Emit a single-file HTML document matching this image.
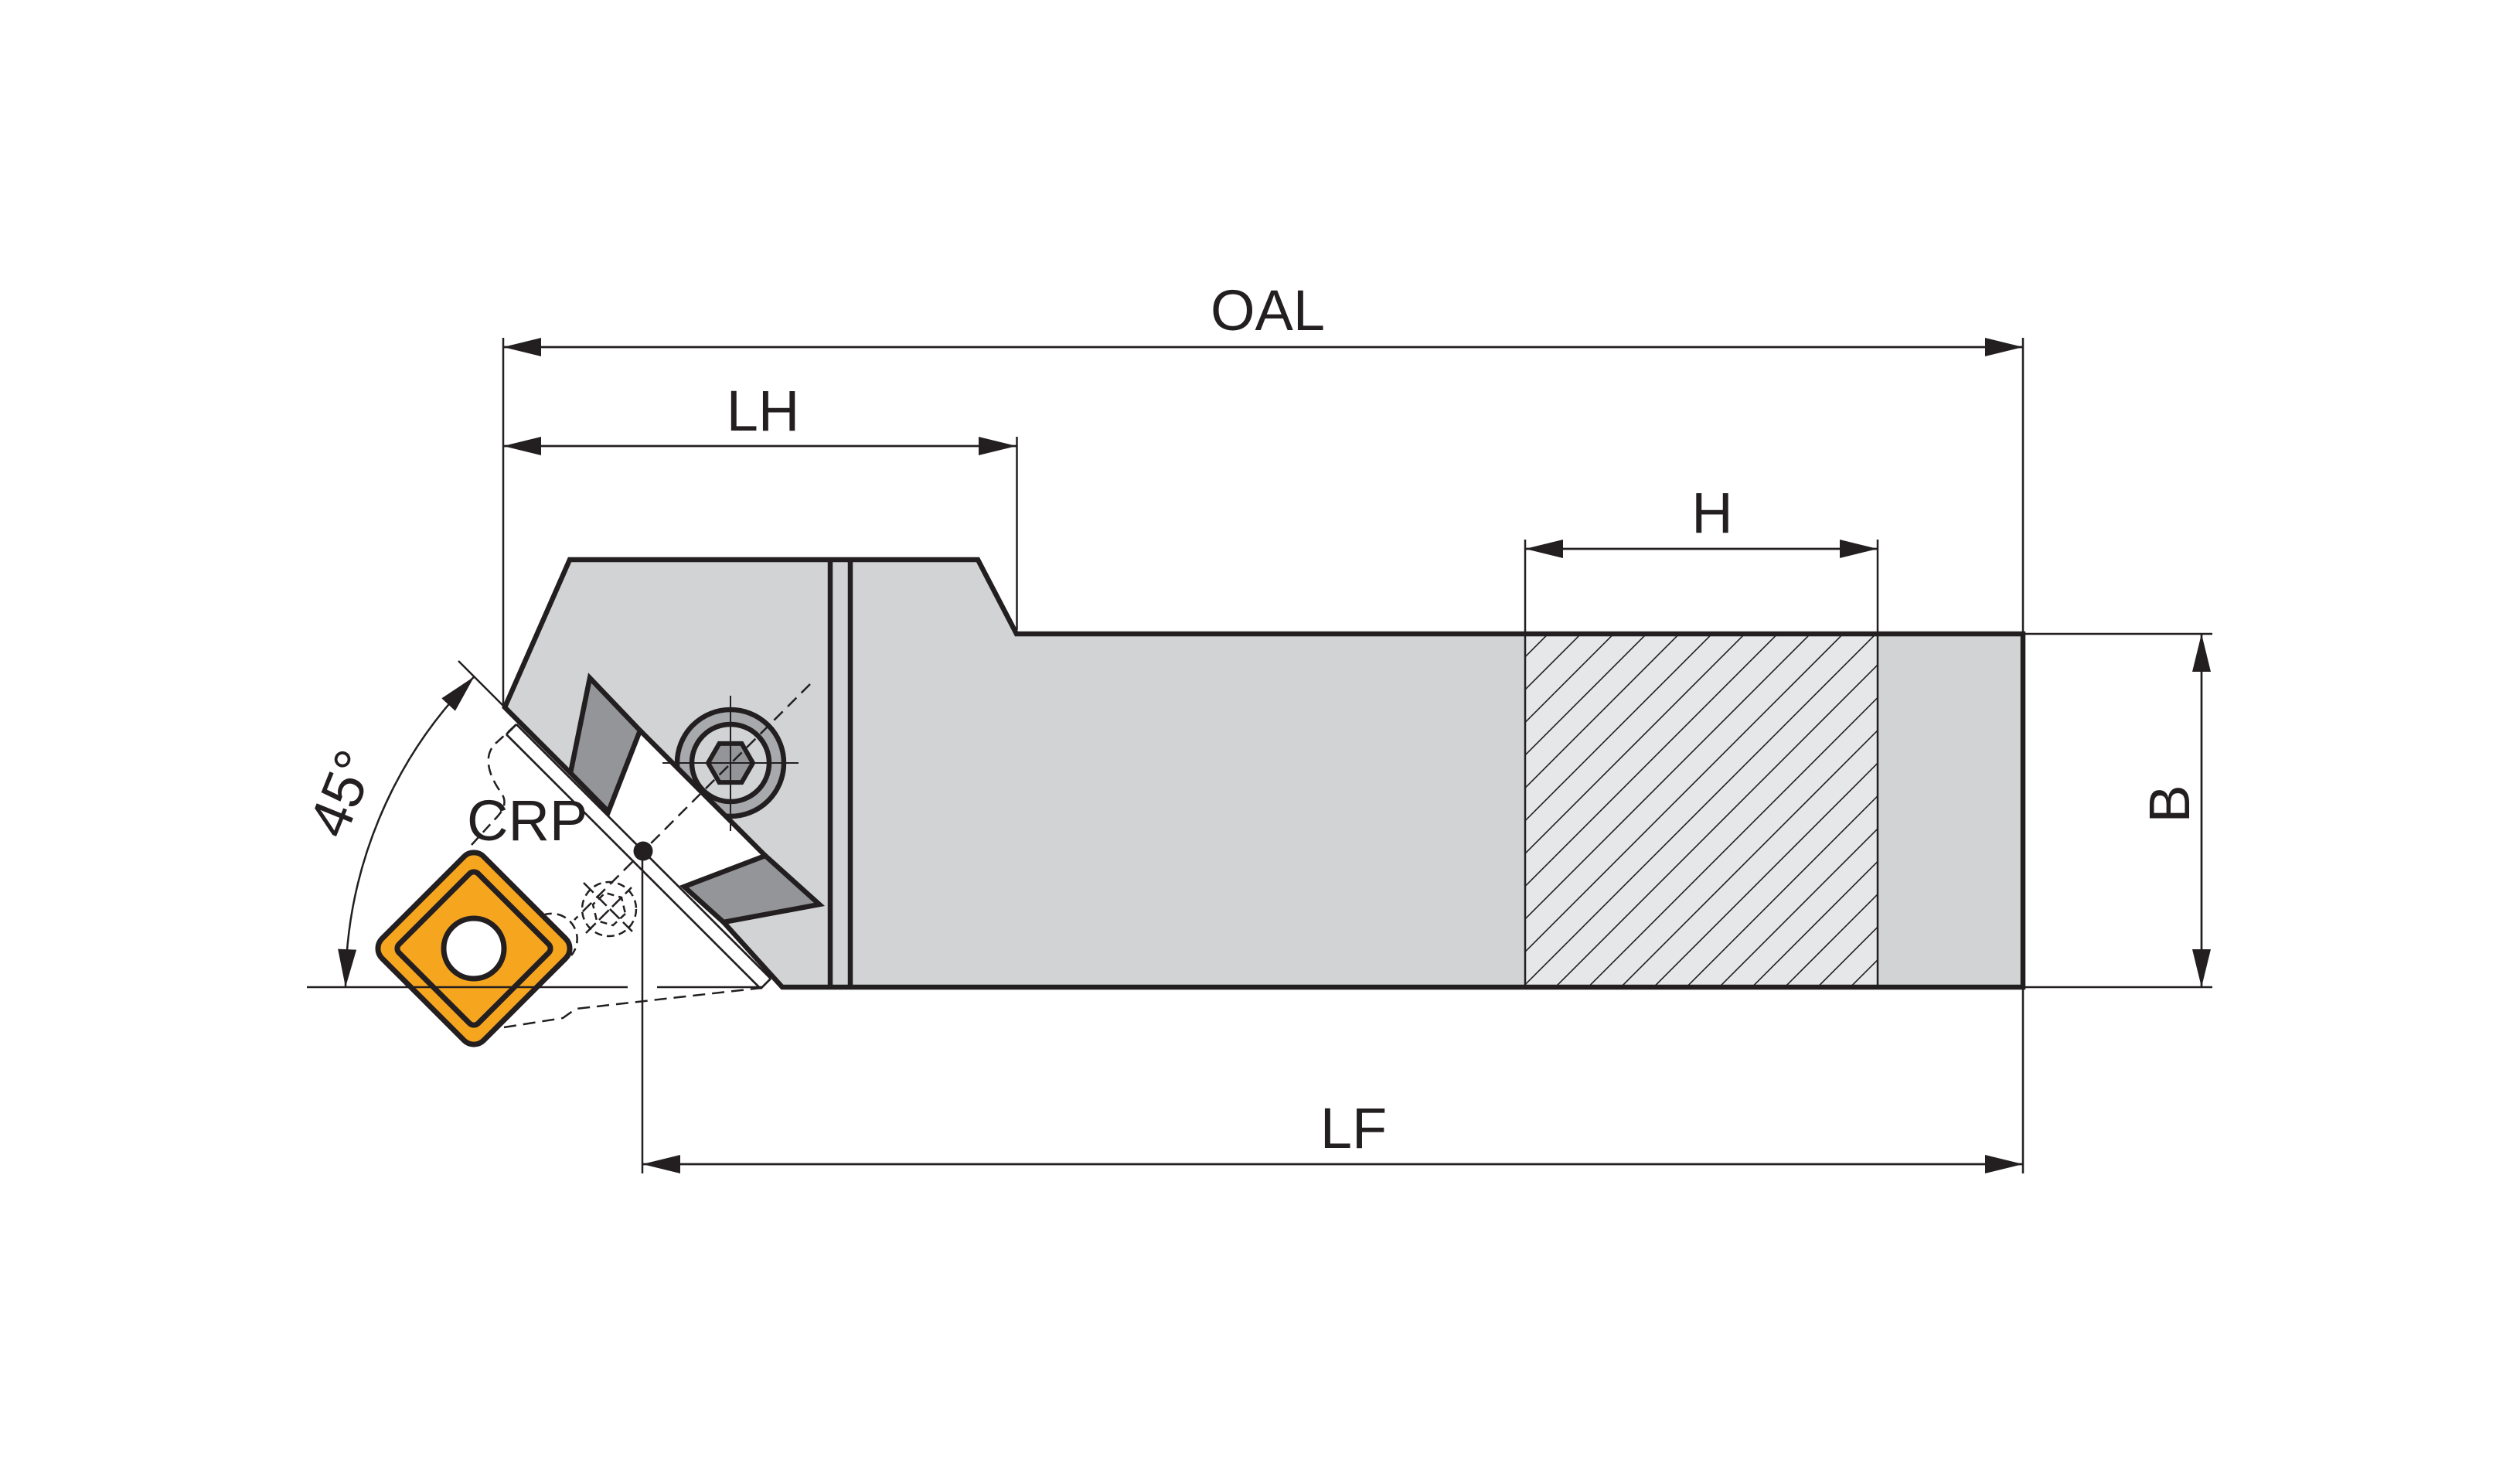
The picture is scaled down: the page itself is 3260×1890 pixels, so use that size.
<!DOCTYPE html>
<html>
<head>
<meta charset="utf-8">
<style>
html,body{margin:0;padding:0;background:#fff;}
svg{display:block;}
text{font-family:"Liberation Sans",Arial,sans-serif;fill:#231f20;}
</style>
</head>
<body>
<svg xmlns="http://www.w3.org/2000/svg" width="3260" height="1890" viewBox="0 0 3260 1890">
<defs>
  <clipPath id="hc"><rect x="1973" y="820" width="456" height="457"/></clipPath>
  <clipPath id="sc"><polygon points="790,907 1030,1147 1200,1147 1200,800 790,800"/></clipPath>
</defs>
<rect width="3260" height="1890" fill="#fff"/>

<!-- body fill -->
<polygon points="653,915 737,724 1265,724 1315,820 2617,820 2617,1277 1012,1277 936,1193 1060,1170 990,1107 828,945 763,877 738,1000" fill="#d1d3d4"/>

<!-- hatched region -->
<rect x="1973" y="820" width="456" height="457" fill="#e6e7e8"/>
<g clip-path="url(#hc)" stroke="#231f20" stroke-width="1.6">
  <line x1="2122.7" y1="700" x2="1422.7" y2="1400"/>
  <line x1="2165.1" y1="700" x2="1465.1" y2="1400"/>
  <line x1="2207.5" y1="700" x2="1507.5" y2="1400"/>
  <line x1="2249.9" y1="700" x2="1549.9" y2="1400"/>
  <line x1="2292.3" y1="700" x2="1592.3" y2="1400"/>
  <line x1="2334.7" y1="700" x2="1634.7" y2="1400"/>
  <line x1="2377.1" y1="700" x2="1677.1" y2="1400"/>
  <line x1="2419.5" y1="700" x2="1719.5" y2="1400"/>
  <line x1="2461.9" y1="700" x2="1761.9" y2="1400"/>
  <line x1="2504.3" y1="700" x2="1804.3" y2="1400"/>
  <line x1="2546.7" y1="700" x2="1846.7" y2="1400"/>
  <line x1="2589.1" y1="700" x2="1889.1" y2="1400"/>
  <line x1="2631.5" y1="700" x2="1931.5" y2="1400"/>
  <line x1="2673.9" y1="700" x2="1973.9" y2="1400"/>
  <line x1="2716.3" y1="700" x2="2016.3" y2="1400"/>
  <line x1="2758.7" y1="700" x2="2058.7" y2="1400"/>
  <line x1="2801.1" y1="700" x2="2101.1" y2="1400"/>
  <line x1="2843.5" y1="700" x2="2143.5" y2="1400"/>
  <line x1="2885.9" y1="700" x2="2185.9" y2="1400"/>
  <line x1="2928.3" y1="700" x2="2228.3" y2="1400"/>
  <line x1="2970.7" y1="700" x2="2270.7" y2="1400"/>
</g>
<g stroke="#231f20" stroke-width="2.5" fill="none">
  <path d="M1973,820 V1277 M2429,820 V1277"/>
</g>

<!-- screw -->
<g clip-path="url(#sc)" stroke="#231f20">
  <circle cx="945" cy="987" r="69" fill="#a7a9ac" stroke-width="6.5"/>
  <circle cx="945" cy="987" r="50" fill="#d1d3d4" stroke-width="6.5"/>
  <polygon points="974,987 959.5,1012.1 930.5,1012.1 916,987 930.5,961.9 959.5,961.9" fill="#939598" stroke-width="6"/>
</g>
<g stroke="#231f20" stroke-width="2">
  <line x1="857" y1="987" x2="1033" y2="987"/>
  <line x1="945" y1="900" x2="945" y2="1075"/>
</g>

<!-- dark seat pieces -->
<g stroke="#231f20" stroke-width="6.5" stroke-linejoin="miter" fill="#939598">
  <polygon points="763,877 828,945 787,1050 738,1000"/>
  <polygon points="885,1147 990,1107 1060,1170 936,1193"/>
</g>

<!-- body outline -->
<g stroke="#231f20" stroke-width="6.5" fill="none" stroke-linejoin="miter">
  <path d="M738,1000 L653,915 L737,724 L1265,724 L1315,820 L2617,820 L2617,1277 L1012,1277 L936,1193"/>
  <path d="M828,945 L990,1107"/>
  <path d="M1074,724 V1277 M1100,724 V1277"/>
</g>

<!-- strip -->
<g stroke="#231f20" stroke-width="2.7" fill="none">
  <path d="M668,937 L997,1266 M655,950 L984,1279 M668,937 L655,950 M997,1266 L984,1279"/>
</g>

<!-- dashed construction lines -->
<g stroke="#231f20" stroke-width="2.5" fill="none">
  <path d="M1048,885 L743,1190" stroke-dasharray="16 9"/>
  <path d="M702,1184 A33,33 0 0 1 739,1236" stroke-dasharray="12 7"/>
  <circle cx="788" cy="1176" r="35" stroke-dasharray="10 6"/>
  <polygon points="809,1182 793,1197 772,1191 767,1170 783,1155 804,1161" stroke-dasharray="9 6"/>
  <path d="M755,1142 L818,1205 M758,1207 L817,1148" stroke-dasharray="18 6"/>
  <path d="M610,1093 L640,1060 C655,1045 655,1035 648,1025 C630,1000 625,975 643,960 L667,938" stroke-dasharray="14 8"/>
  <path d="M652,1329 L728,1317 L745,1305 L985,1278" stroke-dasharray="16 9"/>
</g>

<!-- CRP point -->
<circle cx="832" cy="1101" r="12.5" fill="#231f20"/>

<!-- insert -->
<g transform="rotate(45 613 1227)" stroke="#231f20" stroke-width="7">
  <rect x="520" y="1134" width="186" height="186" rx="18" fill="#f6a51f"/>
  <rect x="540.6" y="1154.6" width="144.8" height="144.8" rx="8" fill="none"/>
  <circle cx="613" cy="1227" r="39" fill="#fff"/>
</g>

<!-- reference / extension lines -->
<g stroke="#231f20" stroke-width="2.5" fill="none">
  <path d="M397,1277 H812 M850,1277 H985"/>
  <path d="M593,855 L653,915"/>
  <path d="M613.4,875.4 A568,568 0 0 0 447,1277"/>
  <path d="M651,437 V915"/>
  <path d="M1315.5,565 V815"/>
  <path d="M2617,437 V1518"/>
  <path d="M1973,698 V820 M2429,698 V820"/>
  <path d="M831,1101 V1518"/>
  <path d="M2617,820 H2862 M2617,1277 H2862"/>
</g>

<!-- dimension lines -->
<g stroke="#231f20" stroke-width="2.7" fill="none">
  <path d="M651,449 H2617"/>
  <path d="M651,577 H1315"/>
  <path d="M1973,710 H2429"/>
  <path d="M2848,820 V1277"/>
  <path d="M831,1506 H2617"/>
</g>

<!-- arrowheads -->
<g fill="#231f20">
  <polygon points="651,449 700,437 700,461"/>
  <polygon points="2617,449 2568,437 2568,461"/>
  <polygon points="651,577 700,565 700,589"/>
  <polygon points="1315,577 1266,565 1266,589"/>
  <polygon points="1973,710 2022,698 2022,722"/>
  <polygon points="2429,710 2380,698 2380,722"/>
  <polygon points="2848,820 2836,869 2860,869"/>
  <polygon points="2848,1277 2836,1228 2860,1228"/>
  <polygon points="831,1506 880,1494 880,1518"/>
  <polygon points="2617,1506 2568,1494 2568,1518"/>
  <polygon points="447,1277 437.1,1227.6 461.1,1228.6"/>
  <polygon points="613.4,875.4 588.9,919.6 571.3,903.4"/>
</g>

<!-- labels -->
<g font-size="74">
  <text x="1640" y="427" text-anchor="middle">OAL</text>
  <text x="987" y="557" text-anchor="middle">LH</text>
  <text x="2215" y="689" text-anchor="middle">H</text>
  <text x="1751" y="1485" text-anchor="middle">LF</text>
  <text x="604" y="1087">CRP</text>
  <text transform="translate(2832,1040) rotate(-90)" text-anchor="middle">B</text>
  <text transform="translate(466,1036) rotate(-68)" text-anchor="middle">45°</text>
</g>
</svg>
</body>
</html>
